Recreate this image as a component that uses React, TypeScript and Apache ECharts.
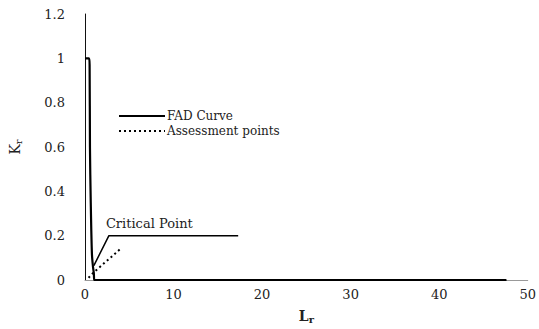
import React, { useEffect, useRef } from "react";
import * as echarts from "echarts";

const fadLr = [0, 0.45, 0.52, 0.56, 0.65, 0.78, 0.9, 1.0, 1.05, 47.5];
const fadKr = [1, 1, 0.97, 0.6, 0.35, 0.12, 0.06, 0.03, 0, 0];

const assessLr = [0.4, 1.0, 2.0, 3.0, 4.15];
const assessKr = [0.01, 0.035, 0.07, 0.105, 0.146];

const criticalLr = [1.0, 2.7, 17.3];
const criticalKr = [0.065, 0.2, 0.2];
const criticalLabel = "Critical Point";

const xTicks = { min: 0, max: 50, interval: 10 };
const yTicks = { min: 0, max: 1.2, interval: 0.2 };

const SERIF = "DejaVu Serif";

export default function App() {
  const ref = useRef<HTMLDivElement>(null);
  useEffect(() => {
    if (!ref.current) return;
    const chart = echarts.init(ref.current, undefined, { renderer: "svg" });
    chart.setOption({
      animation: false,
      backgroundColor: "#fff",
      grid: { left: 81, right: 11, top: 14, bottom: 43 },
      legend: {
        orient: "vertical",
        left: 113,
        top: 104,
        itemWidth: 46,
        itemHeight: 8,
        itemGap: 1,
        data: ["FAD Curve", "Assessment points"],
        itemStyle: { color: "transparent", borderWidth: 0, opacity: 0 },
        textStyle: { fontFamily: SERIF, fontSize: 12, color: "#222", lineHeight: 14, padding: [0, 0, 0, -3] },
      },
      xAxis: {
        type: "value",
        min: xTicks.min,
        max: xTicks.max,
        interval: xTicks.interval,
        splitLine: { show: false },
        axisTick: { show: false },
        axisLine: { show: true, lineStyle: { color: "#999", width: 1 } },
        axisLabel: { fontFamily: SERIF, fontSize: 13, color: "#222", margin: 8 },
        name: "{a|L}{b|r}",
        nameLocation: "middle",
        nameGap: 28,
        nameTextStyle: {
          rich: {
            a: { fontFamily: SERIF, fontSize: 14, fontWeight: "bold", color: "#222" },
            b: { fontFamily: SERIF, fontSize: 10, fontWeight: "bold", color: "#222", verticalAlign: "bottom", padding: [6, 0, 0, 0] },
          },
        },
      },
      yAxis: {
        type: "value",
        min: yTicks.min,
        max: yTicks.max,
        interval: yTicks.interval,
        splitLine: { show: false },
        axisTick: { show: false },
        axisLine: { show: true, lineStyle: { color: "#111", width: 1 } },
        axisLabel: { fontFamily: SERIF, fontSize: 13, color: "#222", margin: 20 },
        name: "{a|K}{b|r}",
        nameLocation: "middle",
        nameGap: 62,
        nameRotate: 90,
        nameTextStyle: {
          rich: {
            a: { fontFamily: SERIF, fontSize: 14, color: "#222" },
            b: { fontFamily: SERIF, fontSize: 10, color: "#222", padding: [6, 0, 0, 0] },
          },
        },
      },
      series: [
        {
          name: "FAD Curve",
          type: "line",
          symbol: "none",
          smooth: 0.3,
          data: fadLr.map((x, i) => [x, fadKr[i]]),
          lineStyle: { color: "#000", width: 2.2 },
          itemStyle: { color: "#000" },
          z: 3,
        },
        {
          name: "Assessment points",
          type: "line",
          symbol: "none",
          data: assessLr.map((x, i) => [x, assessKr[i]]),
          lineStyle: { color: "#000", width: 2, type: [2, 3] },
          itemStyle: { color: "#000" },
          z: 4,
        },
        {
          name: "critical",
          type: "line",
          symbol: "circle",
          symbolSize: 0.01,
          showSymbol: true,
          itemStyle: { color: "transparent" },
          data: criticalLr.map((x, i) =>
            i === 1
              ? {
                  value: [x, criticalKr[i]],
                  label: {
                    show: true,
                    formatter: criticalLabel,
                    position: "top",
                    align: "left",
                    offset: [-3, -1],
                    fontFamily: SERIF,
                    fontSize: 13,
                    color: "#222",
                  },
                }
              : [x, criticalKr[i]]
          ),
          lineStyle: { color: "#000", width: 1.5 },
          z: 5,
        },
      ],
    });
    return () => chart.dispose();
  }, []);
  return <div ref={ref} style={{ width: 539, height: 329, position: "absolute", left: 0, top: 0 }} />;
}
